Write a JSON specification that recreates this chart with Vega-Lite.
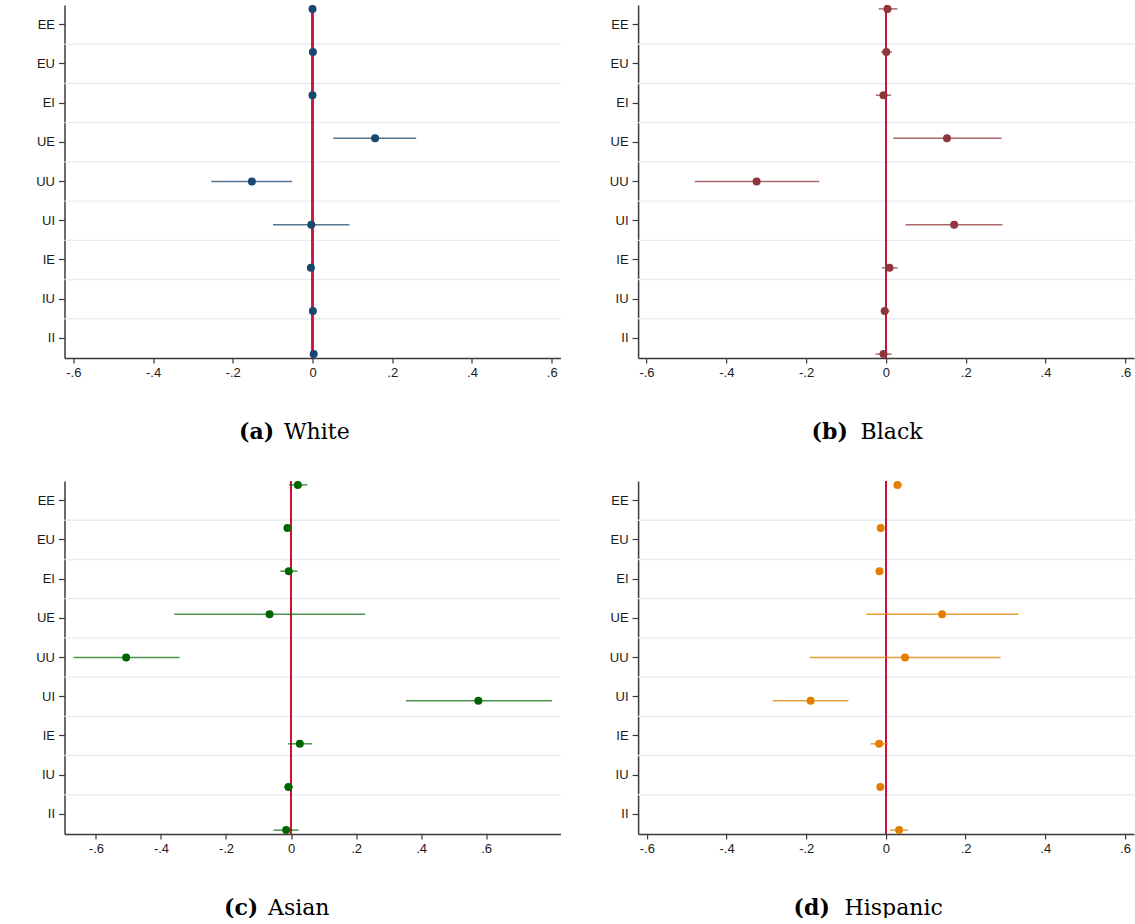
{
  "$schema": "https://vega.github.io/schema/vega-lite/v6.json",
  "padding": {"left": 35.5, "top": 4, "right": 0, "bottom": 0},
  "background": "white",
  "config": {
    "view": {"stroke": null},
    "axis": {
      "labelFont": "Liberation Sans", "labelFontSize": 13, "labelColor": "#1a1a1a",
      "domainColor": "#3a3a3a", "tickColor": "#3a3a3a", "domainWidth": 1.5, "tickWidth": 1.2,
      "grid": false,
      "titleFont": "DejaVu Serif", "titleFontSize": 22, "titleColor": "#000000",
      "titleBaseline": "alphabetic", "titleAlign": "left", "titleAngle": 0
    },
    "axisX": {"tickSize": 5, "labelPadding": 3},
    "axisY": {"tickSize": 6, "labelPadding": 4}
  },
  "datasets": {
    "est": [
      {"g":"a","k":"EE","est":0.000,"lo":-0.004,"hi":0.004},
      {"g":"a","k":"EU","est":0.001,"lo":-0.003,"hi":0.005},
      {"g":"a","k":"EI","est":0.000,"lo":-0.004,"hi":0.004},
      {"g":"a","k":"UE","est":0.157,"lo":0.052,"hi":0.260},
      {"g":"a","k":"UU","est":-0.152,"lo":-0.254,"hi":-0.051},
      {"g":"a","k":"UI","est":-0.003,"lo":-0.099,"hi":0.093},
      {"g":"a","k":"IE","est":-0.004,"lo":-0.008,"hi":0.000},
      {"g":"a","k":"IU","est":0.001,"lo":-0.003,"hi":0.005},
      {"g":"a","k":"II","est":0.003,"lo":-0.001,"hi":0.007},
      {"g":"b","k":"EE","est":0.004,"lo":-0.018,"hi":0.029},
      {"g":"b","k":"EU","est":0.001,"lo":-0.012,"hi":0.015},
      {"g":"b","k":"EI","est":-0.006,"lo":-0.025,"hi":0.013},
      {"g":"b","k":"UE","est":0.153,"lo":0.018,"hi":0.290},
      {"g":"b","k":"UU","est":-0.324,"lo":-0.479,"hi":-0.167},
      {"g":"b","k":"UI","est":0.171,"lo":0.049,"hi":0.292},
      {"g":"b","k":"IE","est":0.009,"lo":-0.010,"hi":0.029},
      {"g":"b","k":"IU","est":-0.003,"lo":-0.013,"hi":0.009},
      {"g":"b","k":"II","est":-0.006,"lo":-0.026,"hi":0.014},
      {"g":"c","k":"EE","est":0.021,"lo":-0.006,"hi":0.050},
      {"g":"c","k":"EU","est":-0.011,"lo":-0.017,"hi":-0.005},
      {"g":"c","k":"EI","est":-0.007,"lo":-0.033,"hi":0.020},
      {"g":"c","k":"UE","est":-0.066,"lo":-0.359,"hi":0.228},
      {"g":"c","k":"UU","est":-0.507,"lo":-0.669,"hi":-0.343},
      {"g":"c","k":"UI","est":0.576,"lo":0.353,"hi":0.802},
      {"g":"c","k":"IE","est":0.027,"lo":-0.009,"hi":0.065},
      {"g":"c","k":"IU","est":-0.008,"lo":-0.022,"hi":0.006},
      {"g":"c","k":"II","est":-0.015,"lo":-0.054,"hi":0.023},
      {"g":"d","k":"EE","est":0.029,"lo":0.021,"hi":0.041},
      {"g":"d","k":"EU","est":-0.013,"lo":-0.017,"hi":-0.009},
      {"g":"d","k":"EI","est":-0.016,"lo":-0.020,"hi":-0.012},
      {"g":"d","k":"UE","est":0.141,"lo":-0.049,"hi":0.333},
      {"g":"d","k":"UU","est":0.048,"lo":-0.191,"hi":0.288},
      {"g":"d","k":"UI","est":-0.189,"lo":-0.284,"hi":-0.094},
      {"g":"d","k":"IE","est":-0.017,"lo":-0.038,"hi":0.005},
      {"g":"d","k":"IU","est":-0.014,"lo":-0.018,"hi":-0.010},
      {"g":"d","k":"II","est":0.033,"lo":0.010,"hi":0.056}
    ]
  },
  "data": {"name": "est"},
  "spacing": 38,
  "vconcat": [
    {
      "spacing": 47.6,
      "hconcat": [
        {
          "width": 496, "height": 353,
          "transform": [{"filter": "datum.g == 'a'"}],
          "layer": [
            {
              "transform": [{"filter": "datum.k != 'EE'"}],
              "mark": {"type": "rule", "color": "#e6edf0", "strokeWidth": 1.4},
              "encoding": {"y": {"field": "k", "type": "nominal", "bandPosition": 0,
                "scale": {"type": "band", "domain": ["EE","EU","EI","UE","UU","UI","IE","IU","II"], "paddingInner": 0, "paddingOuter": 0},
                "axis": {"title": "(a)", "titleX": 174, "titleY": 433, "titleFontWeight": "bold"}}}
            },
            {
              "mark": {"type": "rule", "color": "#d0103a", "strokeWidth": 1.5},
              "encoding": {"x": {"datum": 0, "type": "quantitative", "scale": {"domain": [-0.622, 0.622], "nice": false, "zero": false},
                "axis": {"title": "White", "titleX": 219, "titleY": 80, "titleFontWeight": "normal", "values": [-0.6,-0.4,-0.2,0,0.2,0.4,0.6], "labelExpr": "datum.value == 0 ? '0' : (datum.value < 0 ? '-' : '') + replace(format(abs(datum.value), '.1f'), '0.', '.')"}}}
            },
            {
              "mark": {"type": "rule", "color": "#1a476f", "strokeWidth": 1.5, "opacity": 0.75},
              "encoding": {
                "x": {"field": "lo", "type": "quantitative", "scale": {"domain": [-0.622, 0.622], "nice": false, "zero": false},
                  "axis": {"title": "White", "titleX": 219, "titleY": 80, "titleFontWeight": "normal", "values": [-0.6,-0.4,-0.2,0,0.2,0.4,0.6], "labelExpr": "datum.value == 0 ? '0' : (datum.value < 0 ? '-' : '') + replace(format(abs(datum.value), '.1f'), '0.', '.')"}},
                "x2": {"field": "hi"},
                "y": {"field": "k", "type": "nominal", "scale": {"type": "point", "padding": 0.09, "domain": ["EE","EU","EI","UE","UU","UI","IE","IU","II"]}, "axis": null}
              }
            },
            {
              "mark": {"type": "circle", "color": "#1a476f", "size": 64, "opacity": 1},
              "encoding": {
                "x": {"field": "est", "type": "quantitative", "scale": {"domain": [-0.622, 0.622], "nice": false, "zero": false},
                  "axis": {"title": "White", "titleX": 219, "titleY": 80, "titleFontWeight": "normal", "values": [-0.6,-0.4,-0.2,0,0.2,0.4,0.6], "labelExpr": "datum.value == 0 ? '0' : (datum.value < 0 ? '-' : '') + replace(format(abs(datum.value), '.1f'), '0.', '.')"}},
                "y": {"field": "k", "type": "nominal", "scale": {"type": "point", "padding": 0.09, "domain": ["EE","EU","EI","UE","UU","UI","IE","IU","II"]}, "axis": null}
              }
            }
          ],
          "resolve": {"scale": {"y": "independent"}, "axis": {"y": "independent"}}
        },
        {
          "width": 496, "height": 353,
          "transform": [{"filter": "datum.g == 'b'"}],
          "layer": [
            {
              "transform": [{"filter": "datum.k != 'EE'"}],
              "mark": {"type": "rule", "color": "#e6edf0", "strokeWidth": 1.4},
              "encoding": {"y": {"field": "k", "type": "nominal", "bandPosition": 0,
                "scale": {"type": "band", "domain": ["EE","EU","EI","UE","UU","UI","IE","IU","II"], "paddingInner": 0, "paddingOuter": 0},
                "axis": {"title": "(b)", "titleX": 173, "titleY": 433, "titleFontWeight": "bold"}}}
            },
            {
              "mark": {"type": "rule", "color": "#d0103a", "strokeWidth": 1.5},
              "encoding": {"x": {"datum": 0, "type": "quantitative", "scale": {"domain": [-0.621, 0.622], "nice": false, "zero": false},
                "axis": {"title": "Black", "titleX": 222, "titleY": 80, "titleFontWeight": "normal", "values": [-0.6,-0.4,-0.2,0,0.2,0.4,0.6], "labelExpr": "datum.value == 0 ? '0' : (datum.value < 0 ? '-' : '') + replace(format(abs(datum.value), '.1f'), '0.', '.')"}}}
            },
            {
              "mark": {"type": "rule", "color": "#90353b", "strokeWidth": 1.5, "opacity": 0.75},
              "encoding": {
                "x": {"field": "lo", "type": "quantitative", "scale": {"domain": [-0.621, 0.622], "nice": false, "zero": false},
                  "axis": {"title": "Black", "titleX": 222, "titleY": 80, "titleFontWeight": "normal", "values": [-0.6,-0.4,-0.2,0,0.2,0.4,0.6], "labelExpr": "datum.value == 0 ? '0' : (datum.value < 0 ? '-' : '') + replace(format(abs(datum.value), '.1f'), '0.', '.')"}},
                "x2": {"field": "hi"},
                "y": {"field": "k", "type": "nominal", "scale": {"type": "point", "padding": 0.09, "domain": ["EE","EU","EI","UE","UU","UI","IE","IU","II"]}, "axis": null}
              }
            },
            {
              "mark": {"type": "circle", "color": "#90353b", "size": 64, "opacity": 1},
              "encoding": {
                "x": {"field": "est", "type": "quantitative", "scale": {"domain": [-0.621, 0.622], "nice": false, "zero": false},
                  "axis": {"title": "Black", "titleX": 222, "titleY": 80, "titleFontWeight": "normal", "values": [-0.6,-0.4,-0.2,0,0.2,0.4,0.6], "labelExpr": "datum.value == 0 ? '0' : (datum.value < 0 ? '-' : '') + replace(format(abs(datum.value), '.1f'), '0.', '.')"}},
                "y": {"field": "k", "type": "nominal", "scale": {"type": "point", "padding": 0.09, "domain": ["EE","EU","EI","UE","UU","UI","IE","IU","II"]}, "axis": null}
              }
            }
          ],
          "resolve": {"scale": {"y": "independent"}, "axis": {"y": "independent"}}
        }
      ]
    },
    {
      "spacing": 47.6,
      "hconcat": [
        {
          "width": 496, "height": 353,
          "transform": [{"filter": "datum.g == 'c'"}],
          "layer": [
            {
              "transform": [{"filter": "datum.k != 'EE'"}],
              "mark": {"type": "rule", "color": "#e6edf0", "strokeWidth": 1.4},
              "encoding": {"y": {"field": "k", "type": "nominal", "bandPosition": 0,
                "scale": {"type": "band", "domain": ["EE","EU","EI","UE","UU","UI","IE","IU","II"], "paddingInner": 0, "paddingOuter": 0},
                "axis": {"title": "(c)", "titleX": 159, "titleY": 433, "titleFontWeight": "bold"}}}
            },
            {
              "mark": {"type": "rule", "color": "#d0103a", "strokeWidth": 1.5},
              "encoding": {"x": {"datum": 0, "type": "quantitative", "scale": {"domain": [-0.6966, 0.8286], "nice": false, "zero": false},
                "axis": {"title": "Asian", "titleX": 203, "titleY": 80, "titleFontWeight": "normal", "values": [-0.6,-0.4,-0.2,0,0.2,0.4,0.6], "labelExpr": "datum.value == 0 ? '0' : (datum.value < 0 ? '-' : '') + replace(format(abs(datum.value), '.1f'), '0.', '.')"}}}
            },
            {
              "mark": {"type": "rule", "color": "#006400", "strokeWidth": 1.5, "opacity": 0.7},
              "encoding": {
                "x": {"field": "lo", "type": "quantitative", "scale": {"domain": [-0.6966, 0.8286], "nice": false, "zero": false},
                  "axis": {"title": "Asian", "titleX": 203, "titleY": 80, "titleFontWeight": "normal", "values": [-0.6,-0.4,-0.2,0,0.2,0.4,0.6], "labelExpr": "datum.value == 0 ? '0' : (datum.value < 0 ? '-' : '') + replace(format(abs(datum.value), '.1f'), '0.', '.')"}},
                "x2": {"field": "hi"},
                "y": {"field": "k", "type": "nominal", "scale": {"type": "point", "padding": 0.09, "domain": ["EE","EU","EI","UE","UU","UI","IE","IU","II"]}, "axis": null}
              }
            },
            {
              "mark": {"type": "circle", "color": "#006400", "size": 64, "opacity": 1},
              "encoding": {
                "x": {"field": "est", "type": "quantitative", "scale": {"domain": [-0.6966, 0.8286], "nice": false, "zero": false},
                  "axis": {"title": "Asian", "titleX": 203, "titleY": 80, "titleFontWeight": "normal", "values": [-0.6,-0.4,-0.2,0,0.2,0.4,0.6], "labelExpr": "datum.value == 0 ? '0' : (datum.value < 0 ? '-' : '') + replace(format(abs(datum.value), '.1f'), '0.', '.')"}},
                "y": {"field": "k", "type": "nominal", "scale": {"type": "point", "padding": 0.09, "domain": ["EE","EU","EI","UE","UU","UI","IE","IU","II"]}, "axis": null}
              }
            }
          ],
          "resolve": {"scale": {"y": "independent"}, "axis": {"y": "independent"}}
        },
        {
          "width": 496, "height": 353,
          "transform": [{"filter": "datum.g == 'd'"}],
          "layer": [
            {
              "transform": [{"filter": "datum.k != 'EE'"}],
              "mark": {"type": "rule", "color": "#e6edf0", "strokeWidth": 1.4},
              "encoding": {"y": {"field": "k", "type": "nominal", "bandPosition": 0,
                "scale": {"type": "band", "domain": ["EE","EU","EI","UE","UU","UI","IE","IU","II"], "paddingInner": 0, "paddingOuter": 0},
                "axis": {"title": "(d)", "titleX": 155, "titleY": 433, "titleFontWeight": "bold"}}}
            },
            {
              "mark": {"type": "rule", "color": "#d0103a", "strokeWidth": 1.5},
              "encoding": {"x": {"datum": 0, "type": "quantitative", "scale": {"domain": [-0.622, 0.623], "nice": false, "zero": false},
                "axis": {"title": "Hispanic", "titleX": 206, "titleY": 80, "titleFontWeight": "normal", "values": [-0.6,-0.4,-0.2,0,0.2,0.4,0.6], "labelExpr": "datum.value == 0 ? '0' : (datum.value < 0 ? '-' : '') + replace(format(abs(datum.value), '.1f'), '0.', '.')"}}}
            },
            {
              "mark": {"type": "rule", "color": "#e37e00", "strokeWidth": 1.5, "opacity": 0.75},
              "encoding": {
                "x": {"field": "lo", "type": "quantitative", "scale": {"domain": [-0.622, 0.623], "nice": false, "zero": false},
                  "axis": {"title": "Hispanic", "titleX": 206, "titleY": 80, "titleFontWeight": "normal", "values": [-0.6,-0.4,-0.2,0,0.2,0.4,0.6], "labelExpr": "datum.value == 0 ? '0' : (datum.value < 0 ? '-' : '') + replace(format(abs(datum.value), '.1f'), '0.', '.')"}},
                "x2": {"field": "hi"},
                "y": {"field": "k", "type": "nominal", "scale": {"type": "point", "padding": 0.09, "domain": ["EE","EU","EI","UE","UU","UI","IE","IU","II"]}, "axis": null}
              }
            },
            {
              "mark": {"type": "circle", "color": "#e37e00", "size": 64, "opacity": 1},
              "encoding": {
                "x": {"field": "est", "type": "quantitative", "scale": {"domain": [-0.622, 0.623], "nice": false, "zero": false},
                  "axis": {"title": "Hispanic", "titleX": 206, "titleY": 80, "titleFontWeight": "normal", "values": [-0.6,-0.4,-0.2,0,0.2,0.4,0.6], "labelExpr": "datum.value == 0 ? '0' : (datum.value < 0 ? '-' : '') + replace(format(abs(datum.value), '.1f'), '0.', '.')"}},
                "y": {"field": "k", "type": "nominal", "scale": {"type": "point", "padding": 0.09, "domain": ["EE","EU","EI","UE","UU","UI","IE","IU","II"]}, "axis": null}
              }
            }
          ],
          "resolve": {"scale": {"y": "independent"}, "axis": {"y": "independent"}}
        }
      ]
    }
  ]
}
